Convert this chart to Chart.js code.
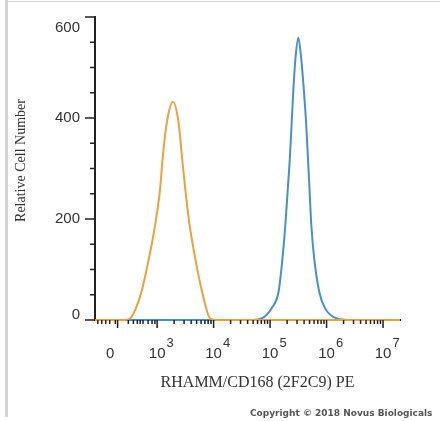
<!DOCTYPE html>
<html lang="en">
<head>
<meta charset="utf-8">
<title>RHAMM/CD168 (2F2C9) PE</title>
<script src="https://cdn.jsdelivr.net/npm/chart.js@4.4.1/dist/chart.umd.min.js"></script>
<style>
  html, body { margin: 0; padding: 0; background: #fff; }
  #marco { position: relative; width: 440px; height: 421px; overflow: hidden; }
  #marco canvas { position: absolute; left: 0; top: 0; }
  .borde-izq { position: absolute; left: 5px; top: 0; width: 3px; height: 417px; background: #d4d4d4; }
  .borde-sup { position: absolute; left: 8px; top: 1px; right: 0; height: 1px; background: #d8d8d8; }
  .copyright { position: absolute; left: 250px; top: 408px; font: bold 9px "DejaVu Sans", sans-serif; color: #555; white-space: nowrap; }
</style>
</head>
<body>
<div id="marco">
  <canvas id="grafico" width="440" height="421"></canvas>
  <div class="borde-izq"></div>
  <div class="borde-sup"></div>
  <div class="copyright">Copyright © 2018 Novus Biologicals</div>
</div>
<script>
// x en décadas (escala biexponencial), y = número de células
const naranjaX = [1.90, 2.40, 2.52, 2.62, 2.73, 2.86, 2.97, 3.05, 3.10, 3.17, 3.28, 3.38, 3.44, 3.50, 3.57, 3.67, 3.79, 3.94, 4.05, 7.30];
const naranjaY = [0, 0, 3, 22, 59, 125, 192, 257, 323, 390, 432, 390, 323, 257, 192, 125, 59, 3, 0, 0];

const azulX = [1.90, 4.70, 4.85, 5.03, 5.15, 5.22, 5.27, 5.31, 5.35, 5.38, 5.41, 5.45, 5.50, 5.55, 5.60, 5.64, 5.67, 5.70, 5.73, 5.78, 5.87, 5.97, 6.18, 6.40, 7.30];
const azulY = [0, 0, 3, 24, 56, 123, 188, 254, 321, 386, 452, 519, 559, 519, 452, 386, 321, 254, 188, 123, 56, 24, 3, 0, 0];

const ticksY = [0, 200, 400, 600];
const etiquetasY = ['0', '200', '400', '600'];
const menoresY = [50, 100, 150, 250, 300, 350, 450, 500, 550];

const ticksX = [2.3, 3, 4, 5, 6, 7];
const posEtiquetasX = [2.17, 3, 4, 5, 6, 7];
const etiquetasX = ['0', '10', '10', '10', '10', '10'];
const exponentesX = ['', '3', '4', '5', '6', '7'];

// marcas menores: zona lineal cerca de 0 y luego logarítmicas
const menoresX = [1.95, 2.02, 2.09, 2.16, 2.26, 2.49, 2.58, 2.65, 2.70, 2.75, 2.84, 2.91, 2.96];
for (let n = 3; n < 7; n++) {
  for (let k = 2; k < 10; k++) menoresX.push(n + Math.log10(k));
}

const fuenteSans = '"Liberation Sans", Arial, sans-serif';
const fuenteSerif = '"Liberation Serif", "Times New Roman", serif';

const marcasYTextos = {
  id: 'marcasYTextos',
  afterDraw(chart) {
    const { ctx, chartArea: area, scales: { x, y } } = chart;
    ctx.save();

    ctx.strokeStyle = '#222';
    ctx.lineWidth = 1.5;
    ctx.beginPath();
    ticksY.forEach(v => {
      const py = y.getPixelForValue(v);
      ctx.moveTo(area.left - 10, py);
      ctx.lineTo(area.left, py);
    });
    menoresY.forEach(v => {
      const py = y.getPixelForValue(v);
      ctx.moveTo(area.left - 5, py);
      ctx.lineTo(area.left, py);
    });
    ticksX.forEach(v => {
      const px = x.getPixelForValue(v);
      ctx.moveTo(px, area.bottom);
      ctx.lineTo(px, area.bottom + 8);
    });
    menoresX.forEach(v => {
      const px = x.getPixelForValue(v);
      ctx.moveTo(px, area.bottom);
      ctx.lineTo(px, area.bottom + 4);
    });
    ctx.stroke();

    ctx.fillStyle = '#333';
    ctx.font = '15px ' + fuenteSans;
    ctx.textAlign = 'right';
    ctx.textBaseline = 'middle';
    ticksY.forEach((v, i) => {
      let py = y.getPixelForValue(v);
      py = Math.min(Math.max(py, area.top + 11), area.bottom - 5);
      ctx.fillText(etiquetasY[i], area.left - 15, py);
    });

    ctx.textBaseline = 'alphabetic';
    posEtiquetasX.forEach((v, i) => {
      const px = x.getPixelForValue(v);
      ctx.font = '15px ' + fuenteSans;
      ctx.textAlign = 'center';
      ctx.fillText(etiquetasX[i], px, area.bottom + 38);
      if (exponentesX[i]) {
        const w = ctx.measureText(etiquetasX[i]).width;
        ctx.font = '13px ' + fuenteSans;
        ctx.textAlign = 'left';
        ctx.fillText(exponentesX[i], px + w / 2 + 1, area.bottom + 27);
      }
    });

    ctx.textAlign = 'center';
    ctx.textBaseline = 'middle';
    ctx.font = '14px ' + fuenteSerif;
    ctx.save();
    ctx.translate(21, (area.top + area.bottom) / 2 - 8);
    ctx.rotate(-Math.PI / 2);
    ctx.fillText('Relative Cell Number', 0, 0);
    ctx.restore();

    ctx.font = '16px ' + fuenteSerif;
    ctx.fillText('RHAMM/CD168 (2F2C9) PE', (area.left + area.right) / 2 + 10, area.bottom + 63);

    ctx.restore();
  }
};

function serie(xs, ys) {
  return xs.map((v, i) => ({ x: v, y: ys[i] }));
}

const ctx = document.getElementById('grafico').getContext('2d');
new Chart(ctx, {
  type: 'line',
  data: {
    datasets: [
      {
        label: 'Control',
        data: serie(naranjaX, naranjaY),
        borderColor: '#E9A23F',
        borderWidth: 2,
        pointRadius: 0,
        cubicInterpolationMode: 'monotone',
        fill: false,
        clip: false
      },
      {
        label: 'RHAMM/CD168',
        data: serie(azulX, azulY),
        borderColor: '#4A8FCB',
        borderWidth: 2,
        pointRadius: 0,
        cubicInterpolationMode: 'monotone',
        fill: false,
        clip: false
      }
    ]
  },
  options: {
    responsive: false,
    animation: false,
    layout: { padding: { left: 0, right: 40, top: 17, bottom: 0 } },
    plugins: {
      legend: { display: false },
      tooltip: { enabled: false }
    },
    scales: {
      x: {
        type: 'linear',
        min: 1.9,
        max: 7.3,
        z: 1,
        grid: { display: false },
        border: { display: true, color: '#222', width: 2 },
        ticks: { display: false },
        afterFit: s => { s.height = 101; }
      },
      y: {
        min: 0,
        max: 600,
        z: 1,
        grid: { display: false },
        border: { display: true, color: '#222', width: 2 },
        ticks: { display: false },
        afterFit: s => { s.width = 95; }
      }
    }
  },
  plugins: [marcasYTextos]
});
</script>
</body>
</html>
